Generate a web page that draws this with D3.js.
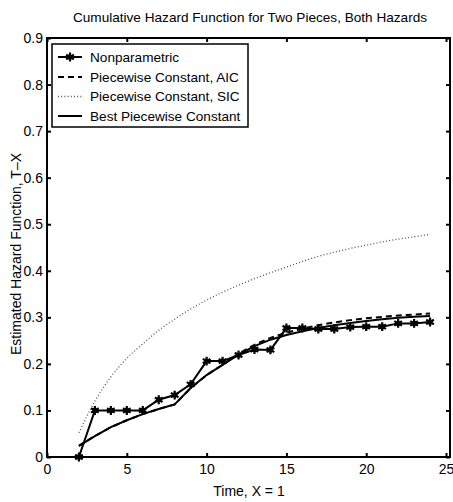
<!DOCTYPE html>
<html><head><meta charset="utf-8">
<script src="https://cdn.jsdelivr.net/npm/d3@7"></script>
<style>body{margin:0;background:#fff;} svg{display:block;font-family:"Liberation Sans",Arial,sans-serif;}</style>
</head><body>
<svg id="c" width="453" height="502"></svg>
<script>
const title = "Cumulative Hazard Function for Two Pieces, Both Hazards";
const xLabel = "Time, X = 1";
const yLabel = "Estimated Hazard Function, T\u2013X";
const xTicks = [0, 5, 10, 15, 20, 25];
const yTicks = [0, 0.1, 0.2, 0.3, 0.4, 0.5, 0.6, 0.7, 0.8, 0.9];
const times = [2,3,4,5,6,7,8,9,10,11,12,13,14,15,16,17,18,19,20,21,22,23,24];
const nonparametric = [0,0.1,0.1,0.1,0.1,0.123,0.133,0.156,0.206,0.206,0.219,0.231,0.23,0.277,0.277,0.275,0.275,0.279,0.28,0.28,0.287,0.287,0.29];
const aic = [0.024,0.045,0.064,0.079,0.092,0.103,0.113,0.148,0.176,0.198,0.222,0.241,0.256,0.267,0.276,0.283,0.289,0.294,0.298,0.301,0.304,0.306,0.308];
const sic = [0.052,0.12,0.172,0.212,0.243,0.272,0.296,0.318,0.337,0.354,0.369,0.383,0.396,0.408,0.42,0.431,0.44,0.448,0.455,0.462,0.468,0.473,0.478];
const best = [0.024,0.045,0.064,0.079,0.092,0.103,0.113,0.148,0.176,0.198,0.22,0.238,0.252,0.262,0.27,0.277,0.283,0.288,0.292,0.296,0.299,0.301,0.303];
const legendLabels = ["Nonparametric","Piecewise Constant, AIC","Piecewise Constant, SIC","Best Piecewise Constant"];

const svg = d3.select("#c");
const L = 47, R = 450, T = 38, B = 457;
const x = d3.scaleLinear().domain([0, 25.25]).range([L, R]);
const y = d3.scaleLinear().domain([0, 0.9]).range([B, T]);

svg.append("rect").attr("x", L).attr("y", T).attr("width", R - L).attr("height", B - T)
  .attr("fill", "none").attr("stroke", "#000").attr("stroke-width", 2);

const fmt = d => d === 0 ? "0" : d3.format("")(d);
const ax = svg.append("g").attr("transform", `translate(0,${B})`)
  .call(d3.axisBottom(x).tickValues(xTicks).tickFormat(fmt).tickSizeInner(-4).tickSizeOuter(0).tickPadding(7));
const axT = svg.append("g").attr("transform", `translate(0,${T})`)
  .call(d3.axisTop(x).tickValues(xTicks).tickFormat("").tickSizeInner(-4).tickSizeOuter(0));
const ay = svg.append("g").attr("transform", `translate(${L},0)`)
  .call(d3.axisLeft(y).tickValues(yTicks).tickFormat(fmt).tickSizeInner(-4).tickSizeOuter(0).tickPadding(4));
const ayR = svg.append("g").attr("transform", `translate(${R},0)`)
  .call(d3.axisRight(y).tickValues(yTicks).tickFormat("").tickSizeInner(-4).tickSizeOuter(0));
[ax, axT, ay, ayR].forEach(g => {
  g.select(".domain").remove();
  g.selectAll(".tick line").attr("stroke", "#000").attr("stroke-width", 2);
  g.selectAll(".tick text").attr("fill", "#000").attr("font-size", 14).attr("font-family", "Liberation Sans, Arial, sans-serif");
});

const pts = arr => times.map((t, i) => [t, arr[i]]);
const lineStraight = d3.line().x(d => x(d[0])).y(d => y(d[1]));
const lineSmooth = d3.line().x(d => x(d[0])).y(d => y(d[1])).curve(d3.curveMonotoneX);

svg.append("path").datum(pts(sic)).attr("d", lineSmooth).attr("fill", "none")
  .attr("stroke", "#555").attr("stroke-width", 1.3).attr("stroke-dasharray", "1,2.2");
svg.append("path").datum(pts(aic)).attr("d", lineStraight).attr("fill", "none")
  .attr("stroke", "#000").attr("stroke-width", 2).attr("stroke-dasharray", "6,4");
svg.append("path").datum(pts(best)).attr("d", lineStraight).attr("fill", "none")
  .attr("stroke", "#000").attr("stroke-width", 2);
svg.append("path").datum(pts(nonparametric)).attr("d", lineStraight).attr("fill", "none")
  .attr("stroke", "#000").attr("stroke-width", 2);

const star = d3.symbol().type(d3.symbolAsterisk).size(55);
function marker(g, cx, cy) {
  g.append("path").attr("d", star()).attr("transform", `translate(${cx},${cy})`)
    .attr("fill", "none").attr("stroke", "#000").attr("stroke-width", 2.2);
  g.append("circle").attr("cx", cx).attr("cy", cy).attr("r", 2.6).attr("fill", "#000");
}
const mg = svg.append("g");
pts(nonparametric).forEach(d => marker(mg, x(d[0]), y(d[1])));

const lg = svg.append("g");
lg.append("rect").attr("x", 52).attr("y", 44).attr("width", 196).attr("height", 83)
  .attr("fill", "#fff").attr("stroke", "#000").attr("stroke-width", 1.5);
const rowsY = [57, 77, 96.5, 116];
const styles = [
  {stroke: "#000", w: 2, dash: null, mark: true},
  {stroke: "#000", w: 2, dash: "6,4", mark: false},
  {stroke: "#555", w: 1.3, dash: "1,2.2", mark: false},
  {stroke: "#000", w: 2, dash: null, mark: false}
];
legendLabels.forEach((lab, i) => {
  const s = styles[i];
  const ln = lg.append("line").attr("x1", 58).attr("x2", 82).attr("y1", rowsY[i]).attr("y2", rowsY[i])
    .attr("stroke", s.stroke).attr("stroke-width", s.w);
  if (s.dash) ln.attr("stroke-dasharray", s.dash);
  if (s.mark) marker(lg, 70, rowsY[i]);
  lg.append("text").attr("x", 90).attr("y", rowsY[i]).attr("dy", "0.36em")
    .attr("font-size", 13.6).text(lab);
});

svg.append("text").attr("x", 250).attr("y", 22).attr("text-anchor", "middle")
  .attr("font-size", 13.6).text(title);
svg.append("text").attr("x", 249).attr("y", 496).attr("text-anchor", "middle")
  .attr("font-size", 14).text(xLabel);
svg.append("text").attr("transform", `translate(21,254) rotate(-90)`)
  .attr("text-anchor", "middle").attr("font-size", 14).text(yLabel);
</script>
</body></html>
